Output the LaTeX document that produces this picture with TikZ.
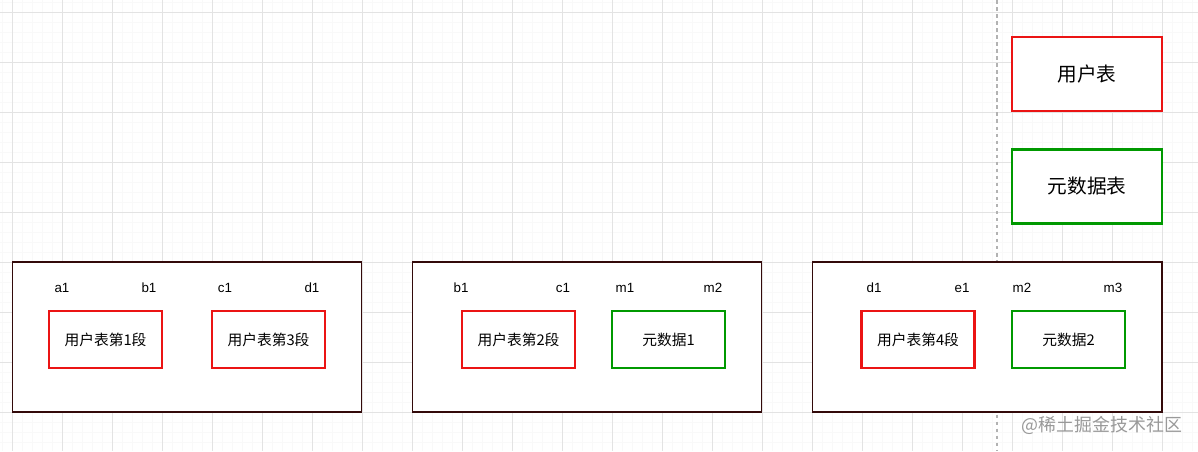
\documentclass[tikz,border=0pt]{standalone}
\usepackage{fontspec}
\setmainfont{Liberation Sans}
\newfontfamily\cjk{Noto Sans CJK SC}
\usetikzlibrary{positioning}
\definecolor{partred}{RGB}{235,20,20}
\definecolor{partgreen}{RGB}{0,153,0}
\definecolor{shardline}{RGB}{51,10,10}

\begin{document}
\begin{tikzpicture}[x=0.02cm, y=-0.02cm,
  shard/.style={draw=shardline, line width=0.6pt, minimum width=7cm, minimum height=3cm},
  part/.style={draw, line width=1.2pt, minimum width=2.26cm, minimum height=1.14cm, font=\cjk\fontsize{8.4}{10}\selectfont},
  legend/.style={draw, line width=1.2pt, minimum width=3cm, minimum height=1.48cm, font=\cjk\fontsize{11.2}{13}\selectfont},
  key/.style={font=\fontsize{7.6}{9}\selectfont}]
 \useasboundingbox (0,0) rectangle (1198,451);
 \fill[white] (0,0) rectangle (1198,451);
 % grid
 \foreach \g in {2,12,...,1192} \draw[black!2.5, line width=0.3pt] (\g,0) -- (\g,451);
 \foreach \g in {2,12,...,442} \draw[black!2.5, line width=0.3pt] (0,\g) -- (1198,\g);
 \foreach \g in {12,62,...,1162} \draw[black!11, line width=0.5pt] (\g,0) -- (\g,451);
 \foreach \g in {12,62,...,412} \draw[black!11, line width=0.5pt] (0,\g) -- (1198,\g);
 \coordinate (sepTop) at (997,0);
 \coordinate (sepBot) at (997,451);
 \draw[black!30, line width=0.6pt, dash pattern=on 2pt off 2pt] (sepTop) -- (sepBot);

 \node[legend, draw=partred, fill=white] (userTable) at (1087,74) {用户表};
 \node[legend, draw=partgreen, fill=white] (metaTable) at (1087,186.5) {元数据表};

 \node[shard, fill=white] (shardA) at (187,337) {};
 \node[shard, fill=white] (shardB) at (587,337) {};
 \node[shard, fill=white] (shardC) at (987,337) {};

 \node[part, draw=partred] (seg1) at (105.5,339.5) {用户表第1段};
 \node[part, draw=partred] (seg3) at (268.5,339.5) {用户表第3段};
 \node[part, draw=partred] (seg2) at (518.5,339.5) {用户表第2段};
 \node[part, draw=partgreen] (meta1) at (668.5,339.5) {元数据1};
 \node[part, draw=partred] (seg4) at (918,339.5) {用户表第4段};
 \node[part, draw=partgreen] (meta2) at (1068.5,339.5) {元数据2};

 \node[key] (aA) at (62,288) {a1};
 \node[key] (bA) at (149,288) {b1};
 \node[key] (cA) at (225,288) {c1};
 \node[key] (dA) at (312,288) {d1};
 \node[key] (bB) at (461,288) {b1};
 \node[key] (cB) at (563,288) {c1};
 \node[key] (mB) at (625,288) {m1};
 \node[key] (nB) at (713,288) {m2};
 \node[key] (dC) at (874,288) {d1};
 \node[key] (eC) at (962,288) {e1};
 \node[key] (mC) at (1022,288) {m2};
 \node[key] (nC) at (1113,288) {m3};

 \node[text=black!40, font=\cjk\fontsize{10.2}{12}\selectfont] (mark) at (1102,425) {@稀土掘金技术社区};
\end{tikzpicture}
\end{document}
